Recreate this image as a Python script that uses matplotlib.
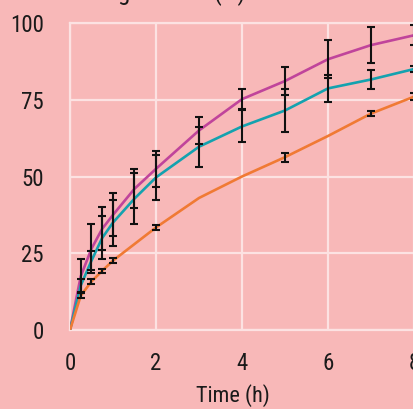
import numpy as np
import matplotlib
matplotlib.use("Agg")
import matplotlib.pyplot as plt

# release profiles
time_h = [0, 0.25, 0.5, 0.75, 1, 1.5, 2, 3, 4, 5, 6, 7, 8]
magenta = [0, 17.5, 26.5, 33, 37.5, 46, 52.5, 65, 75.2, 81.1, 88.2, 92.8, 96]
magenta_err = [0, 5.5, 7.9, 7, 7, 6.4, 5.8, 4.3, 3.3, 4.6, 6.2, 5.9, 3.3]
teal = [0, 14.5, 22.6, 30, 35, 42.8, 49.7, 59.7, 66.3, 71.5, 78.7, 81.6, 85]
teal_err = [0, 2, 3.2, 7, 7.5, 8.2, 7.3, 6.5, 5.2, 7.1, 4.4, 3.1, 1]
orange = [0, 11.2, 15.8, 19.3, 22.6, 28, 33.4, 43, 50, 56.3, 63.2, 70.5, 76]
orange_err = [0, 0.9, 0.8, 0.7, 0.75, 0, 0.8, 0, 0, 1.5, 0, 0.8, 1.2]

xticks = [0, 2, 4, 6, 8]
yticks = [0, 25, 50, 75, 100]

bg = "#F8B8B8"
grid_c = "#FCE2E2"

plt.rcParams['font.family'] = ['Roboto Condensed', 'Open Sans Condensed',
                               'DejaVu Sans']
plt.rcParams['font.stretch'] = 'condensed'

fig = plt.figure(figsize=(4.14, 4.09), dpi=100, facecolor=bg)
ax = fig.add_axes([70/414, 79/409, 365.5/414, 307/409])
ax.set_facecolor(bg)

series = [(magenta, magenta_err, "#C0449B"),
          (teal, teal_err, "#14A2AF"),
          (orange, orange_err, "#F07A34")]

for vals, err, col in series:
    ax.plot(time_h, vals, color=col, lw=1.9, zorder=3)

for vals, err, col in series:
    idx = [i for i, e in enumerate(err) if e > 0]
    ax.errorbar([time_h[i] for i in idx], [vals[i] for i in idx],
                yerr=[err[i] for i in idx], fmt='none', ecolor='#111111',
                elinewidth=1.5, capsize=2.6, capthick=1.5, zorder=4)

ax.set_xlim(0, 8.5)
ax.set_ylim(0, 100)
ax.set_xticks(xticks)
ax.set_yticks(yticks)
ax.grid(True, color=grid_c, lw=1.6, zorder=0)
ax.set_axisbelow(True)
for s in ax.spines.values():
    s.set_color(grid_c)
    s.set_linewidth(1.6)
ax.spines['right'].set_visible(False)

ax.tick_params(length=0, labelsize=16.5, colors='#1a1a1a')
ax.tick_params(axis='y', pad=19)
ax.tick_params(axis='x', pad=16)

ax.set_xlabel("Time (h)", fontsize=16, color='#1a1a1a')
ax.xaxis.set_label_coords((233-70)/365.5, -0.175)

# title text cut off at the top edge
fig.text(84/414, 1.0, "Drug release (%)", fontsize=18, color='#1a1a1a',
         va='baseline', ha='left')

fig.savefig("out.png", dpi=100, facecolor=bg)
